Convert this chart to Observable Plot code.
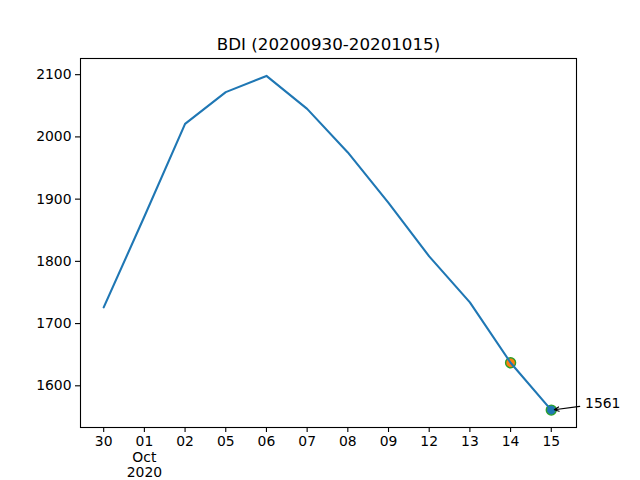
<!DOCTYPE html>
<html><head><meta charset="utf-8">
<script src="https://cdn.jsdelivr.net/npm/d3@7"></script>
<script src="https://cdn.jsdelivr.net/npm/@observablehq/plot@0.6"></script>
<style>
html,body{margin:0;padding:0;background:#fff;}
#chart svg{font-family:"DejaVu Sans",sans-serif;}
</style>
</head><body><div id="chart"></div>
<script>
// Data
const dates = ["2020-09-30","2020-10-01","2020-10-02","2020-10-05","2020-10-06","2020-10-07","2020-10-08","2020-10-09","2020-10-12","2020-10-13","2020-10-14","2020-10-15"];
const tickLabels = ["30","01\nOct\n2020","02","05","06","07","08","09","12","13","14","15"];
const bdi = [1726,1872,2021,2072,2098,2045,1975,1894,1808,1734,1637,1561];
const yTicks = [1600,1700,1800,1900,2000,2100];
const title = "BDI (20200930-20201015)";
const markedIdx = [10, 11];
const markedFill = ["#ff7f0e", "#1f77b4"];
const markedStroke = "#2ca02c";
const annoText = "1561";
const annoTextPos = [11.83, 1572];
const annoArrowStart = [11.7, 1567];
const annoTarget = [11, 1561];

const idx = d3.range(dates.length);
const data = idx.map(i => ({i, date: dates[i], v: bdi[i]}));
const marked = markedIdx.map((i, k) => ({i, v: bdi[i], fill: markedFill[k]}));

const chart = Plot.plot({
  width: 640,
  height: 480,
  marginLeft: 80,
  marginRight: 64,
  marginTop: 58,
  marginBottom: 53,
  style: {fontSize: "13.9px", fontFamily: "DejaVu Sans", color: "black", background: "white"},
  x: {domain: [-0.57, dates.length - 1 + 0.62]},
  y: {domain: [1533, 2126]},
  marks: [
    Plot.axisX({ticks: idx, tickFormat: i => tickLabels[i], tickSize: 5, tickPadding: 3, label: null, lineHeight: 1.1, strokeWidth: 1.1}),
    Plot.axisY({ticks: yTicks, tickFormat: d3.format("d"), tickSize: 5, tickPadding: 4, label: null, strokeWidth: 1.1}),
    Plot.dot(marked, {x: "i", y: "v", fill: "fill", stroke: markedStroke, strokeWidth: 1.4, r: 5}),
    Plot.line(data, {x: "i", y: "v", stroke: "#1f77b4", strokeWidth: 2.1}),
    Plot.arrow([0], {x1: annoArrowStart[0], y1: annoArrowStart[1], x2: annoTarget[0], y2: annoTarget[1], insetEnd: 3, headLength: 7, headAngle: 50, stroke: "black", strokeWidth: 1.1}),
    Plot.text([annoText], {x: annoTextPos[0], y: annoTextPos[1], text: d => d, textAnchor: "start", fontSize: 13.9, fill: "black"}),
    Plot.frame({stroke: "black", strokeWidth: 1.1}),
    Plot.text([title], {frameAnchor: "top", dy: -8.3, lineAnchor: "bottom", fontSize: 16.7, fill: "black"})
  ]
});
document.getElementById("chart").appendChild(chart);
</script>
</body></html>
